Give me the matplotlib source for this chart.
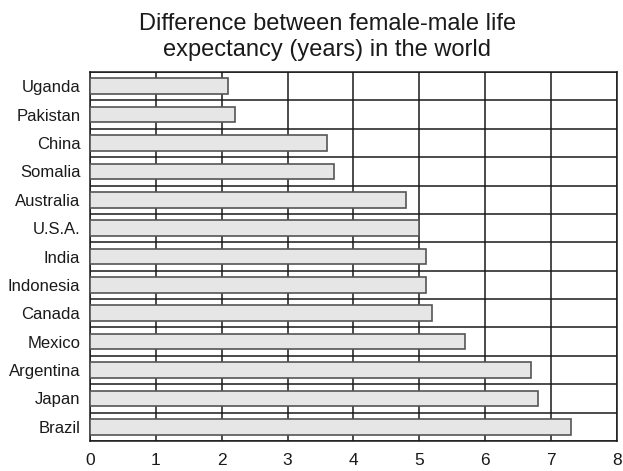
import numpy as np
import matplotlib.pyplot as plt

plt.rcParams['font.family'] = ['Liberation Sans', 'DejaVu Sans']

# ---------------- Données
pays = ['Uganda', 'Pakistan', 'China', 'Somalia', 'Australia', 'U.S.A.', 'India',
        'Indonesia', 'Canada', 'Mexico', 'Argentina', 'Japan', 'Brazil']
ecart = [2.1, 2.2, 3.6, 3.7, 4.8, 5.0, 5.1, 5.1, 5.2, 5.7, 6.7, 6.8, 7.3]
graduations = [0, 1, 2, 3, 4, 5, 6, 7, 8]

# ---------------- Graphique
fig = plt.figure(figsize=(6.23, 4.71), dpi=100)
ax = fig.add_axes([0.1445, 0.0637, 0.8455, 0.7833])

y = np.arange(len(pays))
ax.barh(y, ecart, height=0.55, color='#e6e6e6', edgecolor='#555555', linewidth=1.2, zorder=3)

# grille : lignes verticales aux entiers, horizontales entre les pays
for g in graduations:
    ax.axvline(g, color='#1a1a1a', linewidth=1.1, zorder=1)
for i in range(len(pays) + 1):
    ax.axhline(i - 0.5, color='#1a1a1a', linewidth=1.1, zorder=1)

ax.set_xlim(0, 8)
ax.set_ylim(len(pays) - 0.5, -0.5)
ax.set_xticks(graduations)
ax.set_yticks(y)
ax.set_yticklabels(pays)
ax.tick_params(length=0, labelsize=12, colors='#1a1a1a')
ax.tick_params(axis='x', pad=9, labelsize=12.5)
ax.tick_params(axis='y', pad=7)
for s in ax.spines.values():
    s.set_color('#1a1a1a')
    s.set_linewidth(1.1)

fig.text(0.525, 0.972, "Difference between female-male life\nexpectancy (years) in the world",
         ha='center', va='top', fontsize=17, color='#1a1a1a', linespacing=1.2)

fig.savefig('out.png', dpi=100)
